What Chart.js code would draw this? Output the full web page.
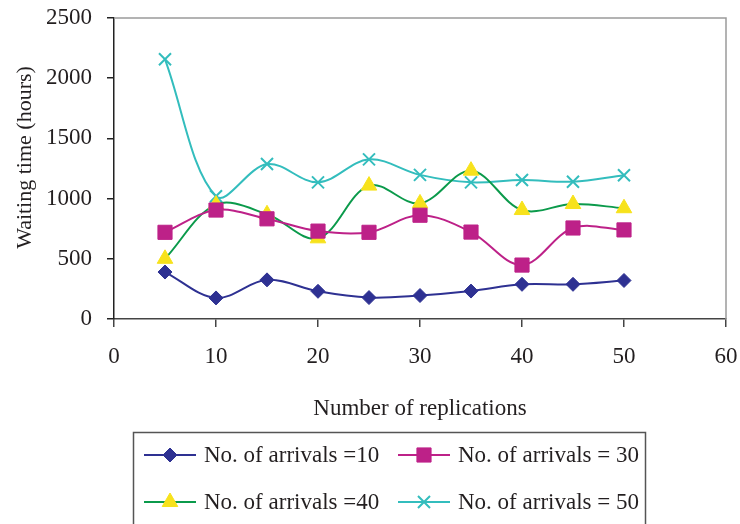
<!DOCTYPE html>
<html>
<head>
<meta charset="utf-8">
<script src="https://cdn.jsdelivr.net/npm/chart.js@4.4.1/dist/chart.umd.min.js"></script>
<style>
  html, body { margin: 0; padding: 0; background: #ffffff; }
  #wrap { width: 740px; height: 524px; }
</style>
</head>
<body>
<div id="wrap"><canvas id="c" width="740" height="524"></canvas></div>
<script>
// Number of replications (x) and mean waiting time in hours per arrival level
const replications = [5, 10, 15, 20, 25, 30, 35, 40, 45, 50];
const arrivals10 = [390, 175, 325, 230, 178, 195, 232, 288, 288, 320];
const arrivals30 = [720, 905, 832, 730, 720, 862, 722, 448, 756, 740];
const arrivals40 = [500, 950, 870, 670, 1108, 960, 1232, 905, 955, 920];
const arrivals50 = [2157, 1020, 1287, 1135, 1326, 1197, 1135, 1154, 1140, 1194];

const seriesLabels = [
  'No. of arrivals =10',
  'No. of arrivals = 30',
  'No. of arrivals =40',
  'No. of arrivals = 50'
];
const xTicks = [0, 10, 20, 30, 40, 50, 60];
const yTicks = [0, 500, 1000, 1500, 2000, 2500];

const FONT = "'Liberation Serif', 'Times New Roman', serif";
const TEXT = '#231f20';

function pts(ys) {
  return replications.map((x, i) => ({ x: x, y: ys[i] }));
}

function series(label, ys, line, fill, style, radius, bw) {
  return {
    label: label,
    data: pts(ys),
    borderColor: line,
    backgroundColor: fill,
    borderWidth: 2,
    tension: 0.35,
    pointStyle: style,
    pointRadius: radius,
    pointHoverRadius: radius,
    pointBackgroundColor: fill,
    pointBorderColor: style === 'crossRot' ? line : fill,
    pointBorderWidth: bw
  };
}

// Gray frame on the top and right of the plot area
const frame = {
  id: 'frame',
  beforeDatasetsDraw(chart) {
    const a = chart.chartArea, ctx = chart.ctx;
    ctx.save();
    ctx.strokeStyle = '#9a9a9a';
    ctx.lineWidth = 1.5;
    ctx.beginPath();
    ctx.moveTo(a.left, a.top);
    ctx.lineTo(a.right, a.top);
    ctx.lineTo(a.right, a.bottom);
    ctx.stroke();
    ctx.restore();
  }
};

// Boxed two-column legend under the axis title
const boxLegend = {
  id: 'boxLegend',
  afterDraw(chart) {
    const ctx = chart.ctx;
    ctx.save();
    ctx.strokeStyle = '#555555';
    ctx.lineWidth = 1.5;
    ctx.strokeRect(133.5, 432.5, 512, 110);
    const cols = [144, 398];
    const rows = [455, 502];
    chart.data.datasets.forEach((ds, i) => {
      const x0 = cols[i % 2], y = rows[Math.floor(i / 2)];
      ctx.strokeStyle = ds.borderColor;
      ctx.lineWidth = 2;
      ctx.beginPath();
      ctx.moveTo(x0, y);
      ctx.lineTo(x0 + 52, y);
      ctx.stroke();
      ctx.fillStyle = ds.pointBackgroundColor;
      ctx.strokeStyle = ds.pointBorderColor;
      ctx.lineWidth = ds.pointBorderWidth;
      Chart.helpers.drawPoint(ctx, {
        pointStyle: ds.pointStyle,
        radius: ds.pointRadius,
        rotation: 0,
        borderWidth: ds.pointBorderWidth
      }, x0 + 26, y);
      ctx.fillStyle = TEXT;
      ctx.font = '23px ' + FONT;
      ctx.textAlign = 'left';
      ctx.textBaseline = 'middle';
      ctx.fillText(ds.label, x0 + 60, y + 1);
    });
    ctx.restore();
  }
};

new Chart(document.getElementById('c'), {
  type: 'line',
  data: {
    datasets: [
      series(seriesLabels[0], arrivals10, '#2e3192', '#2e3192', 'rectRot', 7, 1),
      series(seriesLabels[1], arrivals30, '#bd2188', '#bd2188', 'rect', 10, 1),
      series(seriesLabels[2], arrivals40, '#0b9a4b', '#f7e21c', 'triangle', 9, 1),
      series(seriesLabels[3], arrivals50, '#33bdbd', '#33bdbd', 'crossRot', 8.5, 2)
    ]
  },
  options: {
    responsive: false,
    animation: false,
    devicePixelRatio: 1,
    layout: { padding: { left: 0, right: 14, top: 18, bottom: 94 } },
    plugins: {
      legend: { display: false },
      tooltip: { enabled: false }
    },
    scales: {
      x: {
        type: 'linear',
        min: 0,
        max: 60,
        afterBuildTicks(scale) { scale.ticks = xTicks.map(v => ({ value: v })); },
        afterFit(scale) {
          scale.height = 111;
          scale.paddingLeft = 0;
          scale.paddingRight = 0;
        },
        ticks: {
          color: TEXT,
          font: { family: FONT, size: 23 },
          padding: 16,
          maxRotation: 0,
          callback: v => String(v)
        },
        grid: {
          display: true,
          drawOnChartArea: false,
          drawTicks: true,
          tickLength: 8,
          color: '#444444',
          lineWidth: 1.5
        },
        border: { display: true, color: '#444444', width: 1.5 },
        title: {
          display: true,
          text: 'Number of replications',
          color: TEXT,
          font: { family: FONT, size: 23 },
          padding: { top: 0, bottom: 7 }
        }
      },
      y: {
        type: 'linear',
        min: 0,
        max: 2500,
        afterBuildTicks(scale) { scale.ticks = yTicks.map(v => ({ value: v })); },
        afterFit(scale) {
          scale.width = 114;
          scale.paddingTop = 0;
          scale.paddingBottom = 0;
        },
        ticks: {
          color: TEXT,
          font: { family: FONT, size: 23 },
          padding: 15,
          callback: v => String(v)
        },
        grid: {
          display: true,
          drawOnChartArea: false,
          drawTicks: true,
          tickLength: 7,
          color: '#222222',
          lineWidth: 1.5
        },
        border: { display: true, color: '#222222', width: 1.5 },
        title: {
          display: true,
          text: '    Waiting time (hours)',
          color: TEXT,
          font: { family: FONT, size: 22 },
          padding: { top: 12, bottom: 0 }
        }
      }
    }
  },
  plugins: [frame, boxLegend]
});
</script>
</body>
</html>
